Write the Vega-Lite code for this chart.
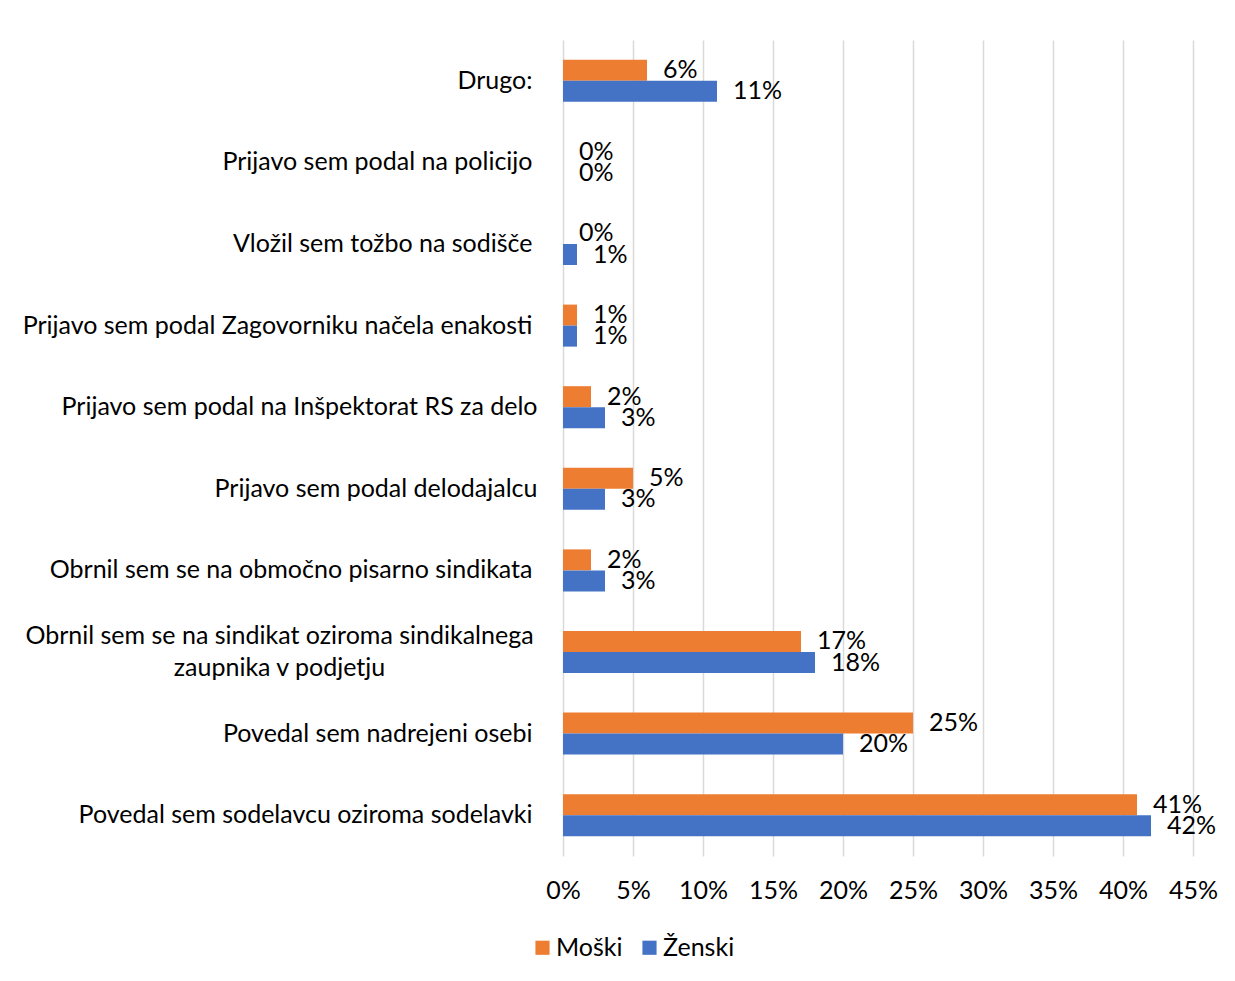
{
  "$schema": "https://vega.github.io/schema/vega-lite/v6.json",
  "width": 630,
  "height": 816,
  "autosize": {"type": "none"},
  "padding": {"left": 563, "top": 40, "right": 42, "bottom": 125},
  "background": "white",
  "config": {"view": {"stroke": null}, "font": "Lato"},
  "data": {
    "values": [
      {"category": "Drugo:", "sex": "Moški", "value": 0.06},
      {"category": "Drugo:", "sex": "Ženski", "value": 0.11},
      {"category": "Prijavo sem podal na policijo", "sex": "Moški", "value": 0},
      {"category": "Prijavo sem podal na policijo", "sex": "Ženski", "value": 0},
      {"category": "Vložil sem tožbo na sodišče", "sex": "Moški", "value": 0},
      {"category": "Vložil sem tožbo na sodišče", "sex": "Ženski", "value": 0.01},
      {"category": "Prijavo sem podal Zagovorniku načela enakosti", "sex": "Moški", "value": 0.01},
      {"category": "Prijavo sem podal Zagovorniku načela enakosti", "sex": "Ženski", "value": 0.01},
      {"category": "Prijavo sem podal na Inšpektorat RS za delo", "sex": "Moški", "value": 0.02},
      {"category": "Prijavo sem podal na Inšpektorat RS za delo", "sex": "Ženski", "value": 0.03},
      {"category": "Prijavo sem podal delodajalcu", "sex": "Moški", "value": 0.05},
      {"category": "Prijavo sem podal delodajalcu", "sex": "Ženski", "value": 0.03},
      {"category": "Obrnil sem se na območno pisarno sindikata", "sex": "Moški", "value": 0.02},
      {"category": "Obrnil sem se na območno pisarno sindikata", "sex": "Ženski", "value": 0.03},
      {"category": "Obrnil sem se na sindikat oziroma sindikalnega zaupnika v podjetju", "sex": "Moški", "value": 0.17},
      {"category": "Obrnil sem se na sindikat oziroma sindikalnega zaupnika v podjetju", "sex": "Ženski", "value": 0.18},
      {"category": "Povedal sem nadrejeni osebi", "sex": "Moški", "value": 0.25},
      {"category": "Povedal sem nadrejeni osebi", "sex": "Ženski", "value": 0.20},
      {"category": "Povedal sem sodelavcu oziroma sodelavki", "sex": "Moški", "value": 0.41},
      {"category": "Povedal sem sodelavcu oziroma sodelavki", "sex": "Ženski", "value": 0.42}
    ]
  },
  "encoding": {
    "y": {
      "field": "category",
      "type": "nominal",
      "sort": [
        "Drugo:",
        "Prijavo sem podal na policijo",
        "Vložil sem tožbo na sodišče",
        "Prijavo sem podal Zagovorniku načela enakosti",
        "Prijavo sem podal na Inšpektorat RS za delo",
        "Prijavo sem podal delodajalcu",
        "Obrnil sem se na območno pisarno sindikata",
        "Obrnil sem se na sindikat oziroma sindikalnega zaupnika v podjetju",
        "Povedal sem nadrejeni osebi",
        "Povedal sem sodelavcu oziroma sodelavki"
      ],
      "scale": {"paddingInner": 0.485, "paddingOuter": 0.2425},
      "axis": {
        "title": null,
        "domain": false,
        "ticks": false,
        "grid": false,
        "labelPadding": {
          "condition": [
            {"test": "datum.value == 'Prijavo sem podal na Inšpektorat RS za delo' || datum.value == 'Prijavo sem podal delodajalcu'", "value": 26},
            {"test": "datum.value == 'Obrnil sem se na sindikat oziroma sindikalnega zaupnika v podjetju'", "value": 284}
          ],
          "value": 31
        },
        "labelAlign": {
          "condition": {"test": "datum.value == 'Obrnil sem se na sindikat oziroma sindikalnega zaupnika v podjetju'", "value": "center"},
          "value": "right"
        },
        "labelOffset": {
          "condition": {"test": "datum.value == 'Obrnil sem se na sindikat oziroma sindikalnega zaupnika v podjetju'", "value": -16},
          "value": 0
        },
        "labelFontSize": 25,
        "labelColor": "#000000",
        "labelLimit": 0,
        "labelLineHeight": 32,
        "labelExpr": "datum.value == 'Obrnil sem se na sindikat oziroma sindikalnega zaupnika v podjetju' ? ['Obrnil sem se na sindikat oziroma sindikalnega', 'zaupnika v podjetju'] : datum.value"
      }
    },
    "yOffset": {"field": "sex", "sort": ["Moški", "Ženski"]},
    "x": {
      "field": "value",
      "type": "quantitative",
      "scale": {"domain": [0, 0.45], "nice": false},
      "axis": {
        "title": null,
        "domain": false,
        "ticks": false,
        "grid": true,
        "gridColor": "#d9d9d9",
        "gridWidth": 1.5,
        "values": [0, 0.05, 0.1, 0.15, 0.2, 0.25, 0.3, 0.35, 0.4, 0.45],
        "format": ".0%",
        "labelFlush": false,
        "labelOverlap": false,
        "labelFontSize": 25,
        "labelColor": "#000000",
        "labelPadding": 22
      }
    }
  },
  "layer": [
    {
      "mark": {"type": "bar"},
      "encoding": {
        "color": {
          "field": "sex",
          "type": "nominal",
          "scale": {"domain": ["Moški", "Ženski"], "range": ["#ED7D31", "#4472C4"]},
          "legend": {
            "title": null,
            "orient": "none",
            "legendX": -33,
            "legendY": 895,
            "direction": "horizontal",
            "symbolType": "square",
            "symbolSize": 200,
            "symbolStrokeWidth": 0,
            "labelFontSize": 25,
            "labelOffset": 1,
            "labelColor": "#000000",
            "columnPadding": 14
          }
        }
      }
    },
    {
      "mark": {"type": "text", "align": "left", "baseline": "middle", "dx": 16, "fontSize": 25, "color": "#000000"},
      "encoding": {
        "text": {"field": "value", "type": "quantitative", "format": ".0%"},
        "detail": {"field": "sex"}
      }
    }
  ]
}
